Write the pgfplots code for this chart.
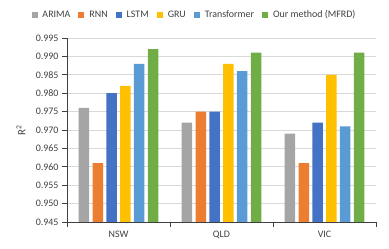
\documentclass[border=0pt]{standalone}
\usepackage{pgfplots}
\pgfplotsset{compat=1.18}
\usepackage{fontspec}
\setmainfont{Carlito}
\definecolor{cA}{HTML}{A5A5A5}
\definecolor{cR}{HTML}{ED7D31}
\definecolor{cL}{HTML}{4472C4}
\definecolor{cG}{HTML}{FFC000}
\definecolor{cT}{HTML}{5B9BD5}
\definecolor{cO}{HTML}{70AD47}
\definecolor{txt}{HTML}{404040}
\definecolor{axc}{HTML}{404040}
\definecolor{grd}{HTML}{D9D9D9}
\begin{document}
\begin{tikzpicture}
\begin{axis}[
  scale only axis, width=309bp, height=184bp,
  xmin=-0.5, xmax=2.5, ymin=0.945, ymax=0.995,
  ytick={0.945,0.950,...,0.9951},
  yticklabel style={/pgf/number format/.cd,fixed,fixed zerofill,precision=3},
  /pgf/number format/assume math mode=true,
  ticklabel style={font=\fontsize{10}{12}\selectfont, text=txt},
  xtick={-0.5,0.5,1.5,2.5}, xticklabels={},
  extra x ticks={0,1,2}, extra x tick labels={NSW,QLD,VIC},
  extra x tick style={grid=none, major tick length=0pt, xticklabel style={yshift=-6bp}},
  tick align=outside, major tick length=5bp,
  tick style={draw=axc, line width=0.7pt},
  ymajorgrids, grid style={grd, line width=0.6pt},
  axis x line*=bottom, axis y line*=left,
  axis line style={axc, line width=0.7pt},
  ylabel={R\textsuperscript{2}},
  ylabel style={at={(axis description cs:-0.149,0.5)}, anchor=center, font=\fontsize{11}{13}\selectfont, text=txt},
  bar width=0.102,
  legend columns=6,
  legend style={at={(0.4126,1.125)}, anchor=center, draw=none, fill=none,
    font=\fontsize{10}{12}\selectfont, text=txt, column sep=3bp,
    /tikz/every even column/.append style={column sep=6bp}},
  legend image code/.code={\fill[#1] (0bp,-3bp) rectangle (6bp,3bp);},
]
\addplot[ybar, fill=cA, draw=none, bar shift=-0.335] coordinates {(0,0.976) (1,0.972) (2,0.969)};
\addplot[ybar, fill=cR, draw=none, bar shift=-0.201] coordinates {(0,0.961) (1,0.975) (2,0.961)};
\addplot[ybar, fill=cL, draw=none, bar shift=-0.067] coordinates {(0,0.980) (1,0.975) (2,0.972)};
\addplot[ybar, fill=cG, draw=none, bar shift=0.067] coordinates {(0,0.982) (1,0.988) (2,0.985)};
\addplot[ybar, fill=cT, draw=none, bar shift=0.201] coordinates {(0,0.988) (1,0.986) (2,0.971)};
\addplot[ybar, fill=cO, draw=none, bar shift=0.335] coordinates {(0,0.992) (1,0.991) (2,0.991)};
\legend{ARIMA,RNN,LSTM,GRU,Transformer,Our method (MFRD)}
\coordinate (bl) at (rel axis cs:0,0);
\coordinate (tr) at (rel axis cs:1,1);
\end{axis}
\pgfresetboundingbox
\path ([xshift=-67bp,yshift=-27bp]bl) rectangle ([xshift=13bp,yshift=38bp]tr);
\end{tikzpicture}
\end{document}
